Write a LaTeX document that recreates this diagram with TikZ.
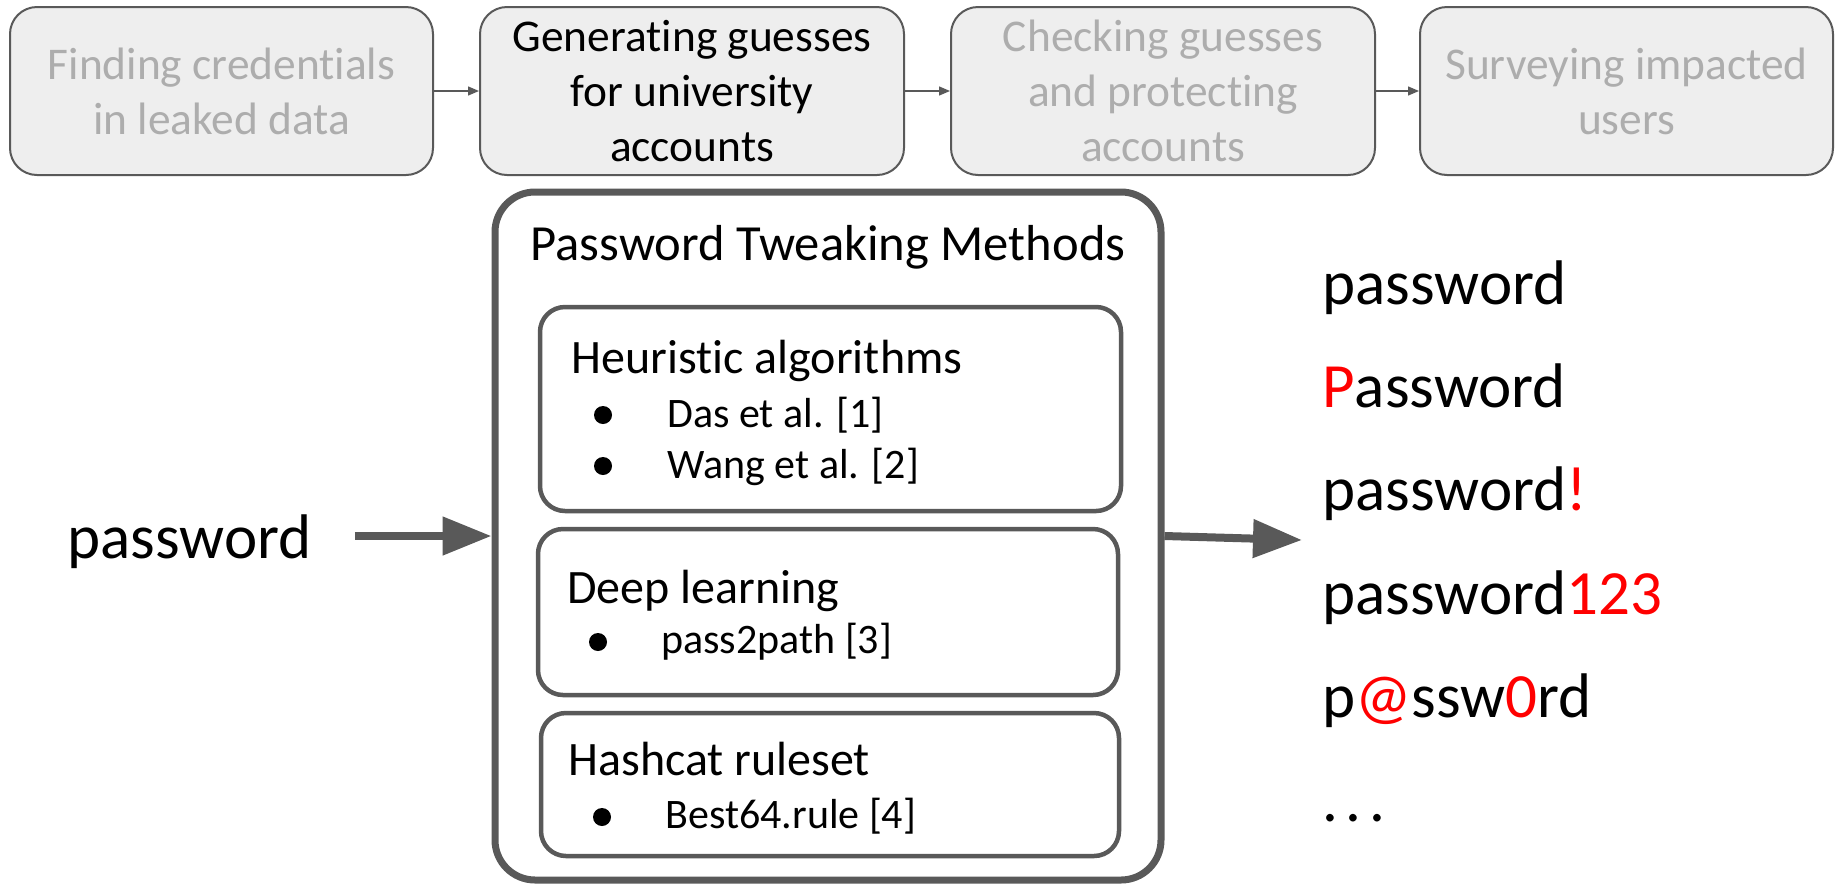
\documentclass[tikz,border=0pt]{standalone}
\usepackage{fontspec}
\setmainfont{Carlito}[Ligatures=NoCommon]
\usetikzlibrary{arrows.meta}
\definecolor{edgegray}{HTML}{595959}
\definecolor{boxfill}{HTML}{EEEEEE}
\definecolor{fadedtext}{HTML}{ADADAD}
\definecolor{hlred}{HTML}{FF0000}

\begin{document}
\begin{tikzpicture}[x=0.5pt,y=-0.5pt,
  stage/.style={draw=edgegray, fill=boxfill, line width=1pt, rounded corners=13.5pt,
    minimum height=84pt, inner sep=0pt, align=center,
    font=\fontsize{22.7}{27.5}\selectfont},
  faded/.style={text=fadedtext},
  flow/.style={draw=edgegray, line width=0.7pt, -{Triangle[length=5.5pt,width=4.5pt]}},
  frame/.style={draw=edgegray, line width=3.5pt, rounded corners=20pt, inner sep=0pt},
  group/.style={draw=edgegray, line width=2.25pt, rounded corners=12.5pt, inner sep=0pt},
  heading/.style={anchor=base west, inner sep=0pt, font=\fontsize{24}{28}\selectfont},
  item/.style={anchor=base west, inner sep=0pt, font=\fontsize{21}{25}\selectfont},
  dot/.style={circle, fill=black, inner sep=0pt, minimum size=9pt},
  guess/.style={anchor=base west, inner sep=0pt, font=\fontsize{31.5}{37}\selectfont},
  bigarrow/.style={draw=edgegray, line width=4pt, -{Triangle[length=24.5pt,width=18.5pt]}},
]
\useasboundingbox (0,0) rectangle (1847,885);

% pipeline stages
\node[stage, faded, minimum width=211.5pt] (s1) at (221.5,91) {Finding credentials\\in leaked data};
\node[stage, minimum width=212pt] (s2) at (692,91) {Generating guesses\\for university\\accounts};
\node[stage, faded, minimum width=212pt] (s3) at (1163,91) {Checking guesses\\and protecting\\accounts};
\node[stage, faded, minimum width=206.5pt] (s4) at (1626.5,91) {Surveying impacted\\users};
\draw[flow] (s1.east) -- (s2.west);
\draw[flow] (s2.east) -- (s3.west);
\draw[flow] (s3.east) -- (s4.west);

% tweaking methods panel
\node[frame, minimum width=333pt, minimum height=344pt] (methods) at (828,536) {};
\node[anchor=base, inner sep=0pt, font=\fontsize{25.3}{30}\selectfont] (title) at (828,260) {Password Tweaking Methods};

\node[group, minimum width=290.5pt, minimum height=102pt] (g1) at (830.5,409) {};
\node[group, minimum width=290pt, minimum height=83pt] (g2) at (828,612) {};
\node[group, minimum width=289pt, minimum height=71.5pt] (g3) at (830,784.5) {};

\node[heading] (h1) at (571,373) {Heuristic algorithms};
\node[dot] (b1) at (603,415) {};
\node[item] (i1) at (667,427) {Das et al. [1]};
\node[dot] (b2) at (603,466) {};
\node[item] (i2) at (667,478) {Wang et al. [2]};

\node[heading] (h2) at (567,603) {Deep learning};
\node[dot] (b3) at (598,642) {};
\node[item] (i3) at (661,653) {pass2path [3]};

\node[heading] (h3) at (568,775) {Hashcat ruleset};
\node[dot] (b4) at (602,817) {};
\node[item] (i4) at (665,828) {Best64.rule [4]};

% input word and generated guesses
\node[guess] (src) at (67,558) {password};
\draw[bigarrow, shorten <=21.5pt] (src.east |- methods.west) -- (methods.west);

\coordinate (outEnd) at (1302,540);
\draw[bigarrow] (methods.east) -- (outEnd);

\node[guess] (w0) at (1322,304) {password};
\node[guess] (w1) at (1322,407) {\textcolor{hlred}{P}assword};
\node[guess] (w2) at (1322,510) {password\textcolor{hlred}{!}};
\node[guess] (w3) at (1322,614) {password\textcolor{hlred}{123}};
\node[guess] (w4) at (1322,717) {p\textcolor{hlred}{@}ssw\textcolor{hlred}{0}rd};
\node[guess] (w5) at (1322,821) {.\hspace{3.8pt}.\hspace{3.8pt}.};
\end{tikzpicture}
\end{document}
